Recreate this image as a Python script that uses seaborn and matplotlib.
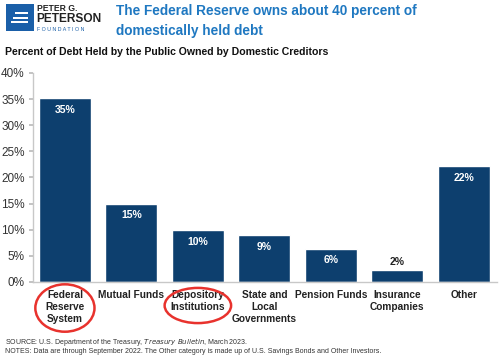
import matplotlib
matplotlib.use("Agg")
import matplotlib.pyplot as plt
import matplotlib.patches as mpatches
import matplotlib.transforms as mtransforms
import pandas as pd
import seaborn as sns

CATEGORIES = [
    "Federal\nReserve\nSystem",
    "Mutual Funds",
    "Depository\nInstitutions",
    "State and\nLocal\nGovernments",
    "Pension Funds",
    "Insurance\nCompanies",
    "Other",
]
SHARES = [35.2, 15.0, 10.0, 8.9, 6.4, 2.2, 22.1]
BAR_LABELS = ["35%", "15%", "10%", "9%", "6%", "2%", "22%"]
Y_TICKS = [0, 5, 10, 15, 20, 25, 30, 35, 40]
CIRCLED = [0, 2]

BAR_COLOR = "#0d3f6e"
TITLE_COLOR = "#1f78c1"


def main() -> None:
    sns.set_theme(style="white")
    plt.rcParams["font.family"] = ["Liberation Sans", "DejaVu Sans"]

    df = pd.DataFrame({"cat": CATEGORIES, "share": SHARES})

    fig = plt.figure(figsize=(5.0, 3.59), dpi=100)
    ax = fig.add_axes([0.066, 0.2145, 0.928, 0.5825])
    sns.barplot(data=df, x="cat", y="share", ax=ax, color=BAR_COLOR,
                width=0.78, saturation=1)

    ax.set_ylim(0, 40)
    ax.set_xlim(-0.48, 6.5)
    ax.set_yticks(Y_TICKS)
    ax.set_yticklabels([f"{t}%" for t in Y_TICKS], fontsize=8.5, color="#333333")
    ax.set_xticks(range(len(CATEGORIES)))
    ax.set_xticklabels(CATEGORIES, fontsize=7.3, fontweight="bold",
                       color="#222222", linespacing=1.2, va="top")
    ax.tick_params(axis="x", length=0, pad=6)
    ax.tick_params(axis="y", length=3, color="#bbbbbb", pad=3, left=True)
    ax.set_xlabel("")
    ax.set_ylabel("")
    for side in ["top", "right"]:
        ax.spines[side].set_visible(False)
    for side in ["left", "bottom"]:
        ax.spines[side].set_color("#c8c8c8")
        ax.spines[side].set_linewidth(1.0)

    for i, (v, lab) in enumerate(zip(SHARES, BAR_LABELS)):
        if v < 4:
            ax.text(i, v + 0.6, lab, ha="center", va="bottom", color="#222222",
                    fontsize=7.5, fontweight="bold")
        else:
            ax.text(i, v - 1.3, lab, ha="center", va="top", color="white",
                    fontsize=7.5, fontweight="bold")

    # red circles round the highlighted labels
    trans = mtransforms.blended_transform_factory(ax.transData, fig.transFigure)
    sizes = {0: (0.89, 0.132, 0.142), 2: (1.0, 0.098, 0.149)}
    for i in CIRCLED:
        w, h, yc = sizes[i]
        ell = mpatches.Ellipse((i, yc), w, h, transform=trans, fill=False,
                               edgecolor="#e8322d", linewidth=1.8, clip_on=False)
        fig.add_artist(ell)

    # logo
    fig.add_artist(mpatches.Rectangle((0.012, 0.913), 0.056, 0.077,
                                      transform=fig.transFigure,
                                      facecolor="#1a5fa8", edgecolor="none"))
    for k in range(3):
        fig.add_artist(mpatches.Rectangle((0.022 + 0.004 * k, 0.935 + 0.013 * k),
                                          0.034 - 0.004 * k, 0.006,
                                          transform=fig.transFigure,
                                          facecolor="white", edgecolor="none"))
    fig.text(0.074, 0.976, "PETER G.", fontsize=6.2, fontweight="bold",
             color="#222222", va="center")
    fig.text(0.073, 0.946, "PETERSON", fontsize=8.6, fontweight="bold",
             color="#222222", va="center")
    fig.text(0.074, 0.918, "F O U N D A T I O N", fontsize=3.8,
             color="#1a5fa8", va="center")

    fig.text(0.232, 0.970, "The Federal Reserve owns about 40 percent of",
             fontsize=9.8, fontweight="bold", color=TITLE_COLOR, va="center")
    fig.text(0.232, 0.913, "domestically held debt",
             fontsize=9.8, fontweight="bold", color=TITLE_COLOR, va="center")

    fig.text(0.010, 0.855, "Percent of Debt Held by the Public Owned by Domestic Creditors",
             fontsize=7.6, fontweight="bold", color="#111111", va="center")

    fig.text(0.010, 0.048,
             "SOURCE: U.S. Department of the Treasury, $\\it{Treasury\\ Bulletin}$, March 2023.",
             fontsize=5.0, color="#333333", va="center")
    fig.text(0.010, 0.022,
             "NOTES: Data are through September 2022. The Other category is made up of "
             "U.S. Savings Bonds and Other Investors.",
             fontsize=5.0, color="#333333", va="center")

    fig.savefig("out.png", dpi=100, facecolor="white")
    plt.close(fig)


if __name__ == "__main__":
    main()
